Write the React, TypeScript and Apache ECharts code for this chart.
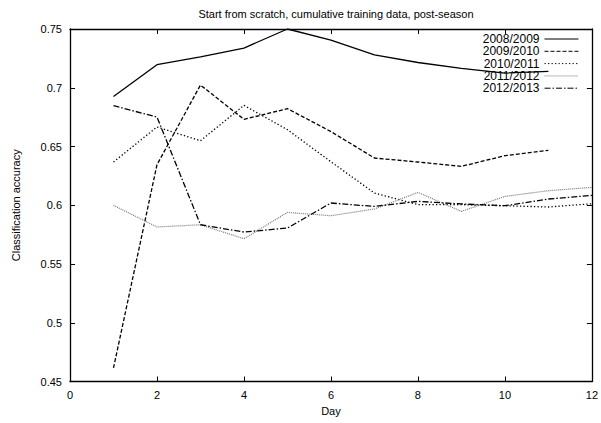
import React, { useEffect, useRef } from "react";
import * as echarts from "echarts";

const days = [1, 2, 3, 4, 5, 6, 7, 8, 9, 10, 11, 12];
const seasons = ["2008/2009", "2009/2010", "2010/2011", "2011/2012", "2012/2013"];
const s2008 = [0.6926, 0.7196, 0.7262, 0.7338, 0.75, 0.7406, 0.7279, 0.7215, 0.7165, 0.7125, 0.714];
const s2009 = [0.4615, 0.6345, 0.7023, 0.6731, 0.6822, 0.6627, 0.6402, 0.6368, 0.6331, 0.6422, 0.6467];
const s2010 = [0.6368, 0.6666, 0.6549, 0.685, 0.6643, 0.637, 0.6104, 0.6005, 0.6005, 0.5996, 0.5985, 0.6013];
const s2011 = [0.5999, 0.5815, 0.5834, 0.5715, 0.5939, 0.5911, 0.5968, 0.6109, 0.5948, 0.6075, 0.6124, 0.6152];
const s2012 = [0.6847, 0.6751, 0.5834, 0.5772, 0.5806, 0.6019, 0.599, 0.6033, 0.6011, 0.5996, 0.6053, 0.6084];
const xTicks = [0, 2, 4, 6, 8, 10, 12];
const yTicks = [0.45, 0.5, 0.55, 0.6, 0.65, 0.7, 0.75];

const seriesValues = [s2008, s2009, s2010, s2011, s2012];
const seriesStyles = [
  { color: "#000", type: "solid" as any, width: 1.3 },
  { color: "#000", type: [4, 2] as any, width: 1.3 },
  { color: "#000", type: [1.3, 2.2] as any, width: 1.3 },
  { color: "#777", type: [1, 1] as any, width: 1.2 },
  { color: "#000", type: [6, 2, 1.5, 2] as any, width: 1.3 },
];

const FONT = "Liberation Sans, Arial, sans-serif";

export default function App() {
  const ref = useRef<HTMLDivElement>(null);
  useEffect(() => {
    if (!ref.current) return;
    const chart = echarts.init(ref.current, null, { renderer: "svg" });
    const axisText = { color: "#000", fontFamily: FONT, fontSize: 11 };
    chart.setOption({
      animation: false,
      backgroundColor: "#fff",
      title: {
        text: "Start from scratch, cumulative training data, post-season",
        left: 331,
        textAlign: "center",
        top: 3,
        textStyle: { color: "#000", fontFamily: FONT, fontSize: 11, fontWeight: "normal" },
      },
      legend: {
        orient: "vertical",
        right: 22,
        top: 33,
        align: "right",
        itemWidth: 34,
        itemHeight: 12,
        itemGap: 0.3,
        padding: 0,
        itemStyle: { opacity: 0, borderWidth: 0 },
        lineStyle: { width: 1 },
        textStyle: { color: "#000", fontFamily: FONT, fontSize: 12 },
        data: seasons,
      },
      grid: { left: 70, right: 9, top: 29, bottom: 41.5, containLabel: false },
      xAxis: [
        {
          type: "value",
          min: 0,
          max: 12,
          interval: 2,
          name: "Day",
          nameLocation: "middle",
          nameGap: 22,
          nameTextStyle: axisText,
          axisLine: { show: true, lineStyle: { color: "#000", width: 1.3 } },
          axisTick: { show: true, inside: true, length: 5, lineStyle: { color: "#000" } },
          axisLabel: { ...axisText, margin: 8, formatter: (v: number) => (xTicks.includes(v) ? String(v) : "") },
          splitLine: { show: false },
        },
        {
          type: "value",
          position: "top",
          min: 0,
          max: 12,
          interval: 2,
          axisLine: { show: true, onZero: false, lineStyle: { color: "#000", width: 1.3 } },
          axisTick: { show: true, inside: true, length: 5, lineStyle: { color: "#000" } },
          axisLabel: { show: false },
          splitLine: { show: false },
        },
      ],
      yAxis: [
        {
          type: "value",
          min: 0.45,
          max: 0.75,
          interval: 0.05,
          name: "Classification accuracy",
          nameLocation: "middle",
          nameGap: 49,
          nameTextStyle: axisText,
          axisLine: { show: true, lineStyle: { color: "#000", width: 1.3 } },
          axisTick: { show: true, inside: true, length: 5, lineStyle: { color: "#000" } },
          axisLabel: {
            ...axisText,
            margin: 8,
            formatter: (v: number) => {
              const r = Math.round(v * 100) / 100;
              return yTicks.some((t) => Math.abs(t - r) < 1e-9) ? String(r) : "";
            },
          },
          splitLine: { show: false },
        },
        {
          type: "value",
          position: "right",
          min: 0.45,
          max: 0.75,
          interval: 0.05,
          axisLine: { show: true, onZero: false, lineStyle: { color: "#000", width: 1.3 } },
          axisTick: { show: true, inside: true, length: 5, lineStyle: { color: "#000" } },
          axisLabel: { show: false },
          splitLine: { show: false },
        },
      ],
      series: seasons.map((name, i) => ({
        name,
        type: "line",
        xAxisIndex: 0,
        yAxisIndex: 0,
        data: seriesValues[i].map((v, j) => [days[j], v]),
        symbol: "none",
        showSymbol: false,
        lineStyle: seriesStyles[i],
        itemStyle: { color: seriesStyles[i].color },
        z: 2,
      })),
    });
    return () => chart.dispose();
  }, []);
  return <div ref={ref} style={{ width: 601, height: 423, position: "absolute", left: 0, top: 0 }} />;
}
